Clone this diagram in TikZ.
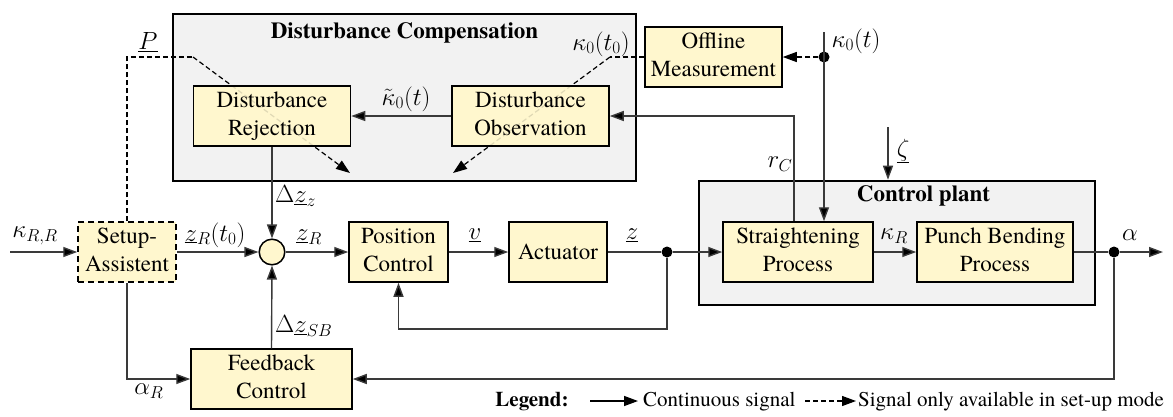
\documentclass[tikz,border=0pt]{standalone}
\usepackage{fontspec}
\setmainfont{texgyretermes}[Extension=.otf, UprightFont=*-regular, BoldFont=*-bold, ItalicFont=*-italic, BoldItalicFont=*-bolditalic]
\usetikzlibrary{arrows.meta,calc}
\pgfdeclarelayer{back}
\pgfdeclarelayer{mid}
\pgfsetlayers{back,mid,main}
\definecolor{boxfill}{HTML}{FFF7CE}
\definecolor{groupfill}{HTML}{F2F2F2}
\definecolor{wire}{HTML}{3A3A3A}
\newcommand{\blocktext}[1]{\begin{tabular}{@{}c@{}}#1\end{tabular}}
\begin{document}
\begin{tikzpicture}[x=1pt,y=-1pt,
  bigfont/.style={font=\fontsize{23}{28}\selectfont},
  block/.style={bigfont, draw=black, line width=1.5pt, fill=boxfill,
    minimum height=60pt, inner sep=1pt},
  dblock/.style={block, dash pattern=on 6pt off 4pt},
  group/.style={draw=black, line width=2.6pt, fill=groupfill, inner sep=0pt},
  grouptitle/.style={font=\fontsize{23}{28}\selectfont\bfseries},
  lbl/.style={bigfont, inner sep=0pt},
  leg/.style={font=\fontsize{21}{25}\selectfont, inner sep=0pt},
  wirestyle/.style={draw=wire, line width=1.4pt, -{Triangle[length=14pt,width=10pt,fill=black]}},
  plain/.style={draw=wire, line width=1.4pt},
  dwire/.style={draw=black, line width=1.2pt, dash pattern=on 5pt off 3pt, -{Triangle[length=14pt,width=10pt,fill=black]}},
  dplain/.style={draw=black, line width=1.2pt, dash pattern=on 5pt off 3pt},
  faint/.style={draw=boxfill!88!black, line width=1.2pt, dash pattern=on 5pt off 3pt},
  sumnode/.style={circle, draw=black, line width=1.5pt, fill=boxfill, minimum size=25.6pt, inner sep=0pt},
  dot/.style={circle, fill=black, minimum size=11pt, inner sep=0pt}
]
\useasboundingbox (0,0) rectangle (1173,416);

% free ends and bends
\coordinate (in) at (10,252);
\coordinate (out) at (1163,252);
\coordinate (pcfb) at (399,329);
\coordinate (rc) at (794,116);
\coordinate (ktop) at (824,32);
\coordinate (zt) at (888,127);
\coordinate (pc) at (193,57);
\coordinate (pt) at (350,173);
\coordinate (kc) at (610,57);
\coordinate (kt) at (453,173);

% group boxes
\begin{pgfonlayer}{back}
\node[group, minimum width=463pt, minimum height=167pt] (DC) at (404.5,97.5) {};
\node[group, minimum width=396pt, minimum height=124pt] (CP) at (897,243) {};
\end{pgfonlayer}
\node[grouptitle] (DCt) at (404.5,33) {Disturbance Compensation};
\node[grouptitle] (CPt) at (923.5,196) {Control plant};

% blocks
\node[block, minimum width=157pt, path picture={\draw[faint] (pc) -- (pt);}] (DR) at (272,116) {\blocktext{Disturbance\\Rejection}};
\node[block, minimum width=157pt, path picture={\draw[faint] (kc) -- (kt);}] (DO) at (530.5,116) {\blocktext{Disturbance\\Observation}};
\node[block, minimum width=137pt] (OM) at (713.5,57) {\blocktext{Offline\\Measurement}};
\node[dblock, minimum width=98pt] (SA) at (127,252) {\blocktext{Setup-\\Assistent}};
\node[sumnode] (sum) at (272,252) {};
\node[block, minimum width=99pt] (PC) at (398.5,252) {\blocktext{Position\\Control}};
\node[block, minimum width=98pt] (AC) at (558,252) {Actuator};
\node[block, minimum width=150pt] (SP) at (798,252) {\blocktext{Straightening\\Process}};
\node[block, minimum width=156pt] (PB) at (995,252) {\blocktext{Punch Bending\\Process}};
\node[block, minimum width=161pt] (FC) at (271.5,379) {\blocktext{Feedback\\Control}};

% junctions
\node[dot] (dz) at (667,252) {};
\node[dot] (da) at (1114,252) {};
\node[dot] (dk) at (824,57) {};

% dashed signals
\begin{pgfonlayer}{mid}
\draw[dplain] (SA.north) -- (SA.north |- pc) -- (pc);
\draw[dwire] (pc) -- (pt);
\draw[dplain] (OM.west) -- (kc);
\draw[dwire] (kc) -- (kt);
\end{pgfonlayer}
\draw[dwire] (dk) -- (OM.east);

% solid signals
\draw[wirestyle] (in) -- (SA.west);
\draw[wirestyle] (SA.east) -- (sum.west);
\draw[wirestyle] (sum.east) -- (PC.west);
\draw[wirestyle] (PC.east) -- (AC.west);
\draw[plain] (AC.east) -- (dz);
\draw[wirestyle] (dz) -- (SP.west);
\draw[wirestyle] (dz) -- (dz |- pcfb) -| (PC.south);
\draw[wirestyle] (SP.east) -- (PB.west);
\draw[plain] (PB.east) -- (da);
\draw[wirestyle] (da) -- (out);
\draw[wirestyle] (da) |- (FC.east);
\draw[wirestyle] (SA.south) |- (FC.west);
\draw[wirestyle] (FC.north) -- (sum.south);
\draw[wirestyle] (DR.south) -- (sum.north);
\draw[wirestyle] (DO.west) -- (DR.east);
\draw[wirestyle] (rc |- SP.north) -- (rc) -- (DO.east);
\draw[wirestyle] (ktop) -- (ktop |- SP.north);
\draw[wirestyle] (zt) -- (zt |- CP.north);

% signal labels
\node[lbl] (lP) at (148,42) {$\underline{P}$};
\node[lbl] (lk0t0) at (601,44) {$\kappa_0(t_0)$};
\node[lbl] (lkt) at (406,99) {$\tilde{\kappa}_0(t)$};
\node[lbl] (lk0) at (856,41) {$\kappa_0(t)$};
\node[lbl] (lrc) at (780,164) {$r_C$};
\node[lbl] (lzeta) at (903,151) {$\underline{\zeta}$};
\node[lbl, anchor=west] (ldzz) at (275,196) {$\Delta\underline{z}_z$};
\node[lbl] (lkRR) at (35,236) {$\kappa_{R,R}$};
\node[lbl] (lzRt0) at (215,235) {$\underline{z}_R(t_0)$};
\node[lbl] (lzR) at (309,237) {$\underline{z}_R$};
\node[lbl] (lv) at (475,235) {$\underline{v}$};
\node[lbl] (lz) at (632,235) {$\underline{z}$};
\node[lbl] (lkR) at (894,236) {$\kappa_R$};
\node[lbl] (lal) at (1130,235) {$\alpha$};
\node[lbl, anchor=west] (ldzsb) at (275,326) {$\Delta\underline{z}_{SB}$};
\node[lbl] (lalR) at (149,391) {$\alpha_R$};

% legend
\node[leg, font=\fontsize{21}{25}\selectfont\bfseries] (legt) at (532,402) {Legend:};
\coordinate (l1a) at (590,401);
\coordinate (l1b) at (638,401);
\coordinate (l2a) at (805,401);
\coordinate (l2b) at (856,401);
\draw[wirestyle, draw=black] (l1a) -- (l1b);
\node[leg, anchor=west] (leg1) at (643,402) {Continuous signal};
\draw[dwire] (l2a) -- (l2b);
\node[leg, anchor=west] (leg2) at (858,402) {Signal only available in set-up mode};
\end{tikzpicture}
\end{document}
